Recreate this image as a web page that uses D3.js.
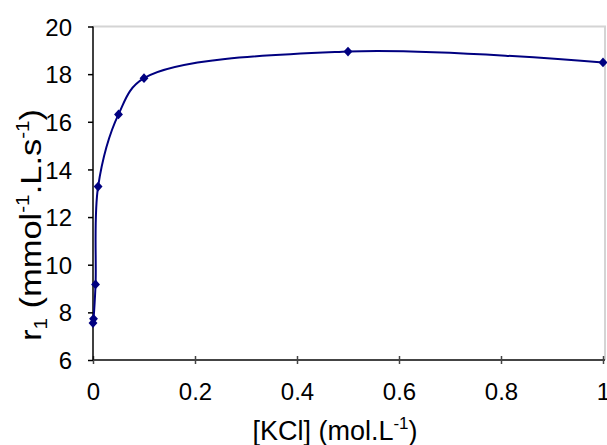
<!DOCTYPE html>
<html><head><meta charset="utf-8">
<script src="https://cdn.jsdelivr.net/npm/d3@7"></script>
<style>body{margin:0;background:#fff}svg{display:block}text{font-family:"Liberation Sans",Arial,sans-serif}</style>
</head><body>
<svg id="c" width="607" height="445"></svg>
<script>
const kcl = [0, 0.001, 0.005, 0.01, 0.05, 0.1, 0.5, 1];
const r1 = [7.55, 7.73, 9.17, 13.28, 16.31, 17.83, 18.95, 18.49];
const xTicks = [0, 0.2, 0.4, 0.6, 0.8, 1];
const yTicks = [6, 8, 10, 12, 14, 16, 18, 20];

const svg = d3.select("#c");
const m = {l: 93, r: 603, t: 26.5, b: 360};
const x = d3.scaleLinear().domain([0, 1]).range([m.l, m.r]);
const y = d3.scaleLinear().domain([6, 20]).range([m.b, m.t]);

// plot-area border (top/right) light gray
svg.append("path").attr("d", `M${m.l},${m.t}H${m.r+2}V${m.b}`)
  .attr("fill", "none").attr("stroke", "#d4d4d4").attr("stroke-width", 2);

const fs = 24;
const gx = svg.append("g").attr("transform", `translate(0,${m.b})`)
  .call(d3.axisBottom(x).tickValues(xTicks).tickSize(4).tickPadding(19).tickFormat(d3.format("~g")));
gx.select(".domain").attr("stroke", "#444").attr("stroke-width", 2).attr("d", `M${m.l},0H${m.r+2}`);
gx.selectAll(".tick line").attr("stroke", "#444").attr("stroke-width", 1.5).attr("y1", -4).attr("y2", 4);
gx.selectAll("text").attr("font-size", fs).attr("fill", "#000");

const gy = svg.append("g").attr("transform", `translate(${m.l},0)`)
  .call(d3.axisLeft(y).tickValues(yTicks).tickSize(5).tickPadding(16));
gy.select(".domain").attr("stroke", "#000").attr("stroke-width", 1.5).attr("d", `M0,${m.b}V${m.t}`);
gy.selectAll(".tick line").attr("stroke", "#000").attr("stroke-width", 1.5);
gy.selectAll("text").attr("font-size", fs).attr("fill", "#000").attr("dy", "0.36em");

// series
const pts = kcl.map((k, i) => [k, r1[i]]);
const line = d3.line().x(d => x(d[0])).y(d => y(d[1])).curve(d3.curveCatmullRom.alpha(0.5));
svg.append("path").datum(pts).attr("d", line).attr("fill", "none")
  .attr("stroke", "#000080").attr("stroke-width", 2);
svg.selectAll("path.mk").data(pts).join("path").attr("class", "mk")
  .attr("d", d3.symbol(d3.symbolDiamond2, 50))
  .attr("transform", d => `translate(${x(d[0])},${y(d[1])}) scale(1,1.1)`)
  .attr("fill", "#000080");

// axis titles
const xt = svg.append("text").attr("x", 335).attr("y", 440).attr("text-anchor", "middle")
  .attr("font-size", 27).attr("fill", "#000");
xt.append("tspan").text("[KCl] (mol.L");
xt.append("tspan").attr("font-size", 17).attr("dy", -11).text("-1");
xt.append("tspan").attr("dy", 11).text(")");

const yt = svg.append("text").attr("transform", "translate(41,225) rotate(-90) scale(1.15,1)")
  .attr("text-anchor", "middle").attr("font-size", 30).attr("fill", "#000");
yt.append("tspan").text("r");
yt.append("tspan").attr("font-size", 18).attr("dy", 6).text("1");
yt.append("tspan").attr("dy", -6).text(" (mmol");
yt.append("tspan").attr("font-size", 18).attr("dy", -12).text("-1");
yt.append("tspan").attr("dy", 12).text(".L.s");
yt.append("tspan").attr("font-size", 18).attr("dy", -12).text("-1");
yt.append("tspan").attr("dy", 12).text(")");
</script>
</body></html>
